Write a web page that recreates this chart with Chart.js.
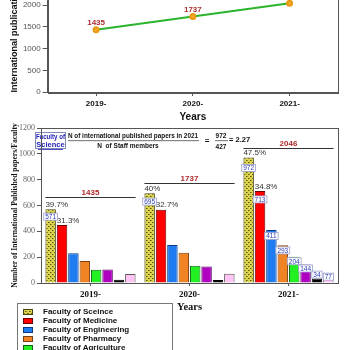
<!DOCTYPE html>
<html>
<head>
<meta charset="utf-8">
<script src="https://cdn.jsdelivr.net/npm/chart.js@4.4.1/dist/chart.umd.min.js"></script>
<style>
  html, body { margin: 0; padding: 0; background: #fff; }
  body { width: 350px; height: 350px; overflow: hidden; position: relative; }
  #trend-wrap { position: absolute; left: 0; top: -40px; width: 350px; height: 165px; }
  #faculty-wrap { position: absolute; left: 0; top: 118px; width: 350px; height: 200px; }
  #legend { position: absolute; left: 17px; top: 303px; width: 150px; height: 80px; border: 1px solid #777;
            background: #fff; padding: 3px 0 0 4px; font: bold 8px Arial, "Liberation Sans", sans-serif; color: #111; }
  #legend .item { display: flex; align-items: center; height: 9px; white-space: nowrap; }
  #legend canvas { width: 10px; height: 6px; margin: 0 10px 0 1px; }
</style>
</head>
<body>
<div id="trend-wrap"><canvas id="trend-canvas" width="350" height="165"></canvas></div>
<div id="faculty-wrap"><canvas id="faculty-canvas" width="350" height="200"></canvas></div>
<div id="legend"></div>
<script>
"use strict";
const years = ["2019-", "2020-", "2021-"];
const totalPapers = [1435, 1737, 2046];

const facultyNames = [
    "Faculty of Sceince",
    "Faculty of Medicine",
    "Faculty of Engineering",
    "Faculty of Pharmacy",
    "Faculty of Agriculture",
    "Faculty of Veterinary Medicine",
    "Faculty of Nursing",
    "Faculty of Education",
];
const science = [571, 695, 972];
const medicine = [449, 568, 713];
const engineering = [231, 295, 411];
const pharmacy = [171, 234, 293];
const agriculture = [102, 133, 204];
const veterinary = [104, 128, 144];
const nursing = [25, 24, 34];
const education = [69, 72, 77];
const facultyValues = [science, medicine, engineering, pharmacy, agriculture, veterinary, nursing, education];

// percentage labels (science, medicine) and boxed value labels
const sciencePct = ["39.7%", "40%", "47.5%"];
const medicinePct = ["31.3%", "32.7%", "34.8%"];
const boxedYears = [[0, 1, 2], [2], [2], [2], [2], [2], [2], [2]];
// height (in papers) where each year's total is written
const totalLevel = [665, 775, 1045];

const staffPapers = 972;
const staffCount = 427;
const staffRatio = "2.27";

function dotPattern() {
    let c = document.createElement("canvas");
    c.width = 4;
    c.height = 4;
    let g = c.getContext("2d");
    g.fillStyle = "#dcd44a";
    g.fillRect(0, 0, 4, 4);
    g.fillStyle = "#5c5616";
    g.fillRect(0, 0, 1, 1);
    g.fillRect(2, 2, 1, 1);
    g.fillStyle = "#9a9228";
    g.fillRect(1, 0, 1, 1);
    g.fillRect(3, 2, 1, 1);
    return g.createPattern(c, "repeat");
}

const fills = [dotPattern(), "#ff0000", "#1e7cf0", "#f08424", "#22f022", "#b000c0", "#000000", "#ffc4f4"];
const edges = ["#4a4612", "#6a0000", "#0a3a80", "#7a4010", "#106010", "#500060", "#000000", "#555555"];

const frame = {
    id: "frame",
    afterDraw(chart) {
        let a = chart.chartArea;
        let ctx = chart.ctx;
        ctx.save();
        ctx.strokeStyle = "#555";
        ctx.lineWidth = 1;
        ctx.strokeRect(Math.round(a.left) + 0.5, Math.round(a.top) + 0.5,
            Math.round(a.right - a.left), Math.round(a.bottom - a.top));
        ctx.restore();
    },
};

const pointLabels = {
    id: "pointLabels",
    afterDatasetsDraw(chart) {
        let ctx = chart.ctx;
        let pts = chart.getDatasetMeta(0).data;
        ctx.save();
        ctx.font = "bold 8px Arial, 'Liberation Sans', sans-serif";
        ctx.fillStyle = "#a83030";
        ctx.textAlign = "center";
        ctx.textBaseline = "middle";
        pts.forEach((p, i) => ctx.fillText(String(totalPapers[i]), p.x, p.y - 7));
        ctx.restore();
    },
};

function drawValueBox(ctx, text, cx, cy) {
    ctx.font = "6.5px Arial, 'Liberation Sans', sans-serif";
    let w = ctx.measureText(text).width + 3;
    let h = 7;
    ctx.fillStyle = "#fff";
    ctx.fillRect(cx - w / 2, cy - h / 2, w, h);
    ctx.strokeStyle = "#9aa0cc";
    ctx.lineWidth = 0.8;
    ctx.strokeRect(cx - w / 2, cy - h / 2, w, h);
    ctx.fillStyle = "#2a3ab8";
    ctx.textAlign = "center";
    ctx.textBaseline = "middle";
    ctx.fillText(text, cx, cy + 0.5);
}

const barNotes = {
    id: "barNotes",
    afterDatasetsDraw(chart) {
        let ctx = chart.ctx;
        let yScale = chart.scales.y;
        let base = yScale.getPixelForValue(0);
        ctx.save();

        // percentages above the first two bars
        ctx.font = "8px Arial, 'Liberation Sans', sans-serif";
        ctx.fillStyle = "#333";
        ctx.textAlign = "left";
        ctx.textBaseline = "bottom";
        [sciencePct, medicinePct].forEach((pcts, d) => {
            chart.getDatasetMeta(d).data.forEach((bar, i) => {
                ctx.fillText(pcts[i], bar.x - bar.width / 2, bar.y - 0.5);
            });
        });

        // boxed values
        boxedYears.forEach((yrs, d) => {
            let bars = chart.getDatasetMeta(d).data;
            yrs.forEach(i => {
                let bar = bars[i];
                let hgt = base - bar.y;
                let cy = hgt < 8 ? bar.y - 4 : bar.y + 3 + hgt * 0.06;
                drawValueBox(ctx, String(facultyValues[d][i]), bar.x, cy);
            });
        });

        // total line per year
        let first = chart.getDatasetMeta(0).data;
        let last = chart.getDatasetMeta(facultyValues.length - 1).data;
        totalLevel.forEach((v, i) => {
            let y = Math.round(yScale.getPixelForValue(v)) + 0.5;
            let x0 = first[i].x - first[i].width / 2;
            let x1 = last[i].x + last[i].width / 2;
            ctx.strokeStyle = "#333";
            ctx.lineWidth = 1;
            ctx.beginPath();
            ctx.moveTo(x0, y);
            ctx.lineTo(x1, y);
            ctx.stroke();
            ctx.font = "bold 8px Arial, 'Liberation Sans', sans-serif";
            ctx.fillStyle = "#b02828";
            ctx.textAlign = "center";
            ctx.textBaseline = "bottom";
            ctx.fillText(String(totalPapers[i]), (x0 + x1) / 2, y - 1);
        });

        // staff ratio note
        ctx.fillStyle = "#fff";
        ctx.fillRect(35, 14, 30, 16);
        ctx.strokeStyle = "#8088b8";
        ctx.strokeRect(35.5, 14.5, 30, 16);
        ctx.fillStyle = "#2222b8";
        ctx.font = "bold 7.5px Arial, 'Liberation Sans', sans-serif";
        ctx.textAlign = "center";
        ctx.textBaseline = "middle";
        ctx.fillText("Faculty of", 50.5, 18.5, 29);
        ctx.fillText("Science", 50.5, 27);
        ctx.fillRect(38, 31, 25, 0.8);

        ctx.fillStyle = "#111";
        ctx.font = "bold 6.5px Arial, 'Liberation Sans', sans-serif";
        ctx.fillText("N of international published papers in 2021", 133, 18, 130);
        ctx.fillText("N  of Staff members", 128, 28.5);
        ctx.fillRect(68, 22.5, 131, 0.6);
        ctx.font = "bold 8px Arial, 'Liberation Sans', sans-serif";
        ctx.fillText("=", 207, 23);
        ctx.font = "bold 6.5px Arial, 'Liberation Sans', sans-serif";
        ctx.fillText(String(staffPapers), 221, 18);
        ctx.fillText(String(staffCount), 221, 29);
        ctx.fillRect(215, 22.5, 13, 0.6);
        ctx.font = "bold 7.5px Arial, 'Liberation Sans', sans-serif";
        ctx.textAlign = "left";
        ctx.fillText("= " + staffRatio, 229, 21.5);
        ctx.restore();
    },
};

const plainTick = v => String(v);

function createCharts() {
    let trendCtx = document.getElementById("trend-canvas").getContext("2d");
    new Chart(trendCtx, {
        type: "line",
        data: {
            labels: years,
            datasets: [{
                data: totalPapers,
                borderColor: "#2cb42c",
                borderWidth: 2,
                pointBackgroundColor: "#f5a82a",
                pointBorderColor: "#e89a10",
                pointRadius: 2.5,
                tension: 0,
            }],
        },
        options: {
            responsive: false,
            animation: false,
            layout: { padding: { top: 23.5, right: 12, left: 0, bottom: 0 } },
            plugins: { legend: { display: false }, tooltip: { enabled: false } },
            scales: {
                x: {
                    offset: true,
                    afterFit: s => { s.height = 33; },
                    grid: { drawOnChartArea: false, tickLength: 4, color: "#555" },
                    border: { color: "#555" },
                    ticks: { color: "#111", padding: 3, font: { family: "Arial", size: 8, weight: "bold" } },
                    title: { display: true, text: "Years", color: "#111", padding: { top: 0, bottom: 2 },
                             font: { family: "Arial", size: 10, weight: "bold" } },
                },
                y: {
                    min: 0,
                    max: 2500,
                    afterFit: s => { s.width = 47.7; },
                    grid: { drawOnChartArea: false, tickLength: 5, color: "#555" },
                    border: { color: "#555" },
                    ticks: { stepSize: 500, color: "#555", padding: 2, callback: plainTick,
                             font: { family: "Arial", size: 8 } },
                    title: { display: true, text: "International publications", color: "#111",
                             padding: { top: 9.5, bottom: 0 }, font: { family: "Arial", size: 9, weight: "bold" } },
                },
            },
        },
        plugins: [frame, pointLabels],
    });

    let facultyCtx = document.getElementById("faculty-canvas").getContext("2d");
    let serif = "'Liberation Serif', 'Times New Roman', serif";
    let facultyChart = new Chart(facultyCtx, {
        type: "bar",
        data: {
            labels: years,
            datasets: facultyValues.map((vals, d) => ({
                label: facultyNames[d],
                data: vals,
                backgroundColor: fills[d],
                borderColor: edges[d],
                borderWidth: 1,
                categoryPercentage: 0.92,
                barPercentage: 0.92,
            })),
        },
        options: {
            responsive: false,
            animation: false,
            layout: { padding: { top: 10, right: 12, left: 0, bottom: 0 } },
            plugins: { legend: { display: false }, tooltip: { enabled: false } },
            scales: {
                x: {
                    afterFit: s => { s.height = 35; },
                    grid: { offset: false, drawOnChartArea: false, tickLength: 3, color: "#555" },
                    border: { color: "#555" },
                    ticks: { color: "#111", padding: 3, font: { family: serif, size: 9, weight: "bold" } },
                    title: { display: true, text: "Years", color: "#111", padding: { top: 0, bottom: 4 },
                             font: { family: serif, size: 10.5, weight: "bold" } },
                },
                y: {
                    min: 0,
                    max: 1200,
                    afterFit: s => { s.width = 41; },
                    grid: { drawOnChartArea: false, tickLength: 4, color: "#555" },
                    border: { color: "#555" },
                    ticks: { stepSize: 200, color: "#666", padding: 2, callback: plainTick,
                             font: { family: serif, size: 8 } },
                    title: { display: true, text: "Number of International Published papers/Faculty", color: "#111",
                             padding: { top: 10, bottom: 0 }, font: { family: serif, size: 7.6, weight: "bold" } },
                },
            },
        },
        plugins: [frame, barNotes],
    });

    // html legend from the chart's own legend items
    let legend = document.getElementById("legend");
    let items = facultyChart.options.plugins.legend.labels.generateLabels(facultyChart);
    items.forEach(item => {
        let row = document.createElement("div");
        row.className = "item";
        let sw = document.createElement("canvas");
        sw.width = 10;
        sw.height = 6;
        let g = sw.getContext("2d");
        g.fillStyle = item.fillStyle;
        g.fillRect(0, 0, 10, 6);
        g.strokeStyle = item.strokeStyle;
        g.strokeRect(0.5, 0.5, 9, 5);
        row.appendChild(sw);
        row.appendChild(document.createTextNode(item.text));
        legend.appendChild(row);
    });
}

document.addEventListener("DOMContentLoaded", createCharts);
</script>
</body>
</html>
